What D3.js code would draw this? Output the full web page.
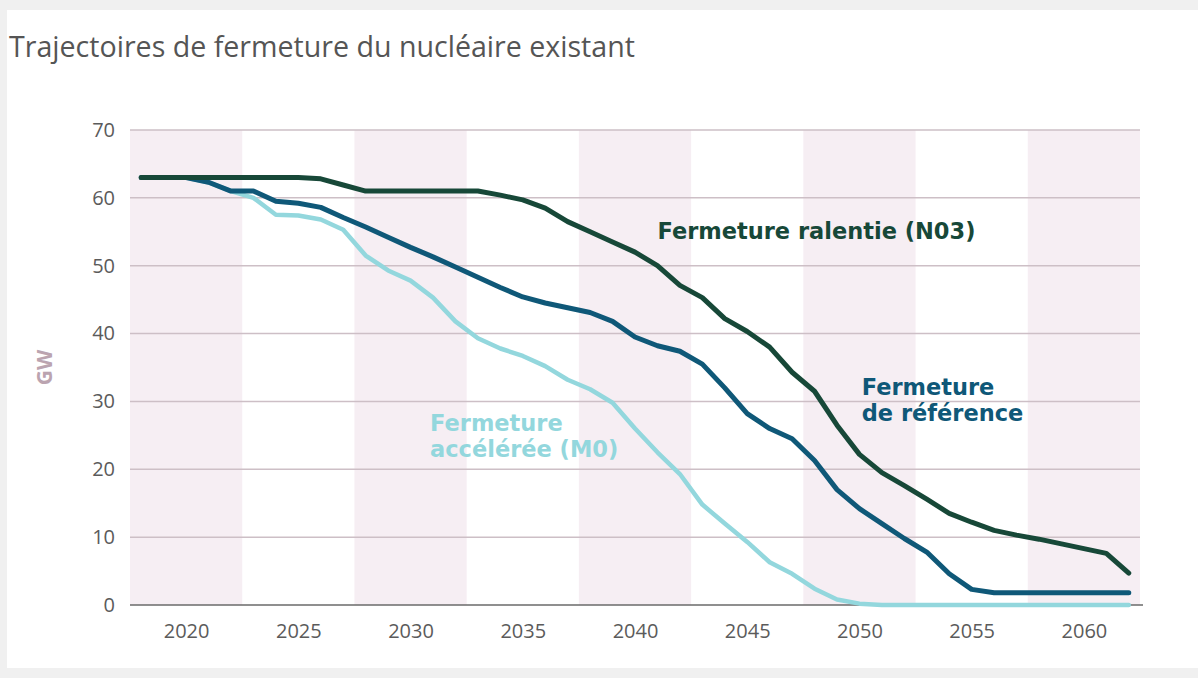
<!DOCTYPE html>
<html>
<head>
<meta charset="utf-8">
<script src="https://cdn.jsdelivr.net/npm/d3@7"></script>
<style>
  html, body { margin: 0; padding: 0; background: #f0f0f0; }
  #chart { position: absolute; left: 7px; top: 10px; width: 1191px; height: 658px; background: #fff; }
  svg { display: block; }
</style>
</head>
<body>
<div id="chart"></div>
<script>
// years 2018 .. 2062
var years = d3.range(2018, 2063);

var ralentie_n03 = [
  63, 63, 63, 63, 63, 63, 63, 63, 62.8, 61.9,
  61, 61, 61, 61, 61, 61, 60.4, 59.7, 58.5, 56.5,
  55, 53.5, 52, 50, 47.1, 45.3, 42.2, 40.3, 38, 34.3,
  31.5, 26.5, 22.2, 19.5, 17.6, 15.6, 13.5, 12.2, 11, 10.3,
  9.7, 9, 8.3, 7.6, 4.7
];

var reference = [
  63, 63, 63, 62.3, 61, 61, 59.5, 59.2, 58.6, 57.1,
  55.7, 54.2, 52.7, 51.3, 49.8, 48.3, 46.8, 45.4, 44.5, 43.8,
  43.1, 41.8, 39.5, 38.2, 37.4, 35.5, 32, 28.2, 26, 24.5,
  21.3, 17, 14.2, 12, 9.8, 7.8, 4.6, 2.3, 1.8, 1.8,
  1.8, 1.8, 1.8, 1.8, 1.8
];

var acceleree_m0 = [
  63, 63, 63, 62.3, 61, 60, 57.5, 57.4, 56.8, 55.3,
  51.5, 49.3, 47.8, 45.3, 41.8, 39.3, 37.8, 36.7, 35.2, 33.2,
  31.8, 29.8, 26, 22.5, 19.3, 14.8, 12, 9.3, 6.3, 4.6,
  2.4, 0.8, 0.2, 0, 0, 0, 0, 0, 0, 0,
  0, 0, 0, 0, 0
];

var x_ticks = [2020, 2025, 2030, 2035, 2040, 2045, 2050, 2055, 2060];
var y_ticks = [0, 10, 20, 30, 40, 50, 60, 70];

var series = [
  { id: 'm0',  values: acceleree_m0, color: '#93d7dd', width: 4.5,
    label: ['Fermeture', 'accélérée (M0)'], lx: 2030.87, ly: 25.65 },
  { id: 'ref', values: reference,    color: '#0f5878', width: 5,
    label: ['Fermeture', 'de référence'],    lx: 2050.1, ly: 31.0 },
  { id: 'n03', values: ralentie_n03, color: '#174838', width: 5,
    label: ['Fermeture ralentie (N03)'],     lx: 2041.0, ly: 54.0 }
];

var W = 1191, H = 658;
var svg = d3.select('#chart').append('svg')
  .attr('width', W)
  .attr('height', H);

// page offset of chart div is (7,10); work in page coords through a group
var g = svg.append('g').attr('transform', 'translate(-7,-10)');

var x = d3.scaleLinear()
  .domain([2017.5, 2062.5])
  .range([130, 1140]);

var y = d3.scaleLinear()
  .domain([0, 70])
  .range([605, 130]);

// alternating bands, one per 5 years
g.selectAll('rect.band')
  .data(x_ticks.filter((d, i) => i % 2 === 0))
  .enter()
  .append('rect')
  .attr('class', 'band')
  .attr('x', (d) => x(d - 2.5))
  .attr('y', y(70))
  .attr('width', (d) => x(d + 2.5) - x(d - 2.5))
  .attr('height', y(0) - y(70))
  .attr('fill', '#f6eef3');

// horizontal grid
g.selectAll('line.grid')
  .data(y_ticks.filter((d) => d > 0))
  .enter()
  .append('line')
  .attr('class', 'grid')
  .attr('x1', x(2017.5))
  .attr('x2', x(2062.5))
  .attr('y1', (d) => y(d))
  .attr('y2', (d) => y(d))
  .attr('stroke', '#cdbfc6')
  .attr('stroke-width', 1.5);

// baseline
g.append('line')
  .attr('x1', x(2017.5))
  .attr('x2', x(2062.5) + 3)
  .attr('y1', y(0))
  .attr('y2', y(0))
  .attr('stroke', '#6a6a6a')
  .attr('stroke-width', 1.5);

var font = '"Open Sans", "DejaVu Sans", sans-serif';

var y_axis = g.append('g')
  .attr('transform', `translate(${ x(2017.5) - 15 },0)`)
  .call(d3.axisLeft(y).tickValues(y_ticks).tickSize(0).tickPadding(0));
y_axis.select('.domain').remove();
y_axis.selectAll('text')
  .attr('font-family', font)
  .attr('font-size', 20)
  .attr('fill', '#5b5b5b');

var x_axis = g.append('g')
  .attr('transform', `translate(0,${ y(0) + 19 })`)
  .call(d3.axisBottom(x).tickValues(x_ticks).tickFormat(d3.format('d')).tickSize(0).tickPadding(0));
x_axis.select('.domain').remove();
x_axis.selectAll('text')
  .attr('font-family', font)
  .attr('font-size', 20)
  .attr('fill', '#5b5b5b');

g.append('text')
  .attr('transform', `translate(52,${ (y(0) + y(70)) / 2 }) rotate(-90)`)
  .attr('text-anchor', 'middle')
  .attr('font-family', font)
  .attr('font-weight', 700)
  .attr('font-size', 21)
  .attr('fill', '#bba4b0')
  .text('GW');

g.append('text')
  .attr('x', 9)
  .attr('y', 57)
  .attr('font-family', font)
  .attr('font-size', 28.6)
  .attr('fill', '#555')
  .text('Trajectoires de fermeture du nucléaire existant');

var line = d3.line()
  .x((d, i) => x(years[i]))
  .y((d) => y(d));

g.selectAll('path.line')
  .data(series)
  .enter()
  .append('path')
  .attr('class', 'line')
  .attr('d', (s) => line(s.values))
  .attr('fill', 'none')
  .attr('stroke', (s) => s.color)
  .attr('stroke-width', (s) => s.width)
  .attr('stroke-linejoin', 'round')
  .attr('stroke-linecap', 'round');

// series labels, one text per line
var line_gap = 26.5;
series.forEach((s) => {
  s.label.forEach((l, i) => {
    g.append('text')
      .attr('x', x(s.lx))
      .attr('y', y(s.ly) + i * line_gap)
      .attr('font-family', '"DejaVu Sans", Verdana, sans-serif')
      .attr('font-weight', 700)
      .attr('font-size', 22.5)
      .attr('fill', s.color)
      .text(l);
  });
});
</script>
</body>
</html>
